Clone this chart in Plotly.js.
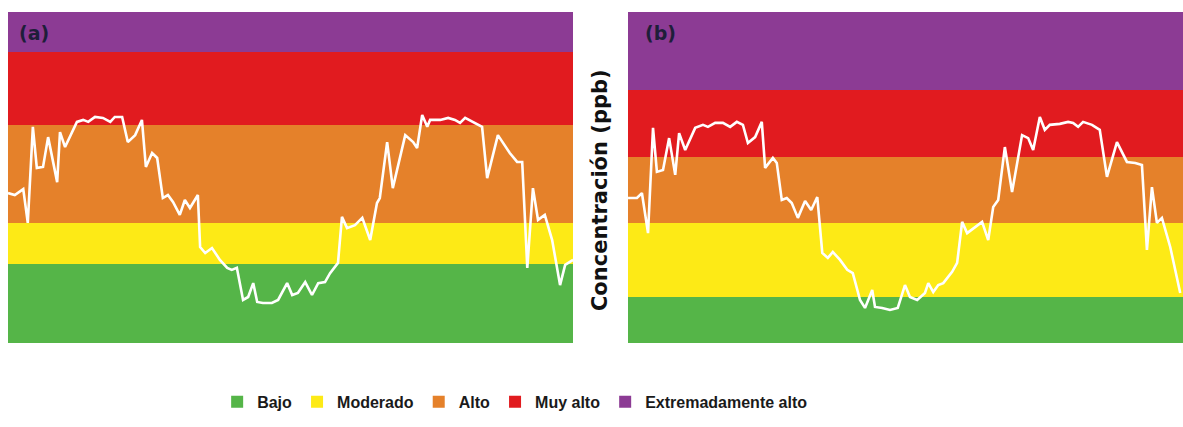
<!DOCTYPE html>
<html><head><meta charset="utf-8">
<script src="https://cdn.plot.ly/plotly-3.0.1.min.js"></script>
<style>html,body{margin:0;padding:0;background:#fff}#chart{width:1183px;height:427px}</style>
</head><body><div id="chart"></div>
<script>
// Band categories (bottom to top)
const bandNames = ["Bajo", "Moderado", "Alto", "Muy alto", "Extremadamente alto"];
const bandColors = ["#55b548", "#fdea16", "#e5812a", "#e11b1f", "#8c3b94"];
// Upper limit of each band (concentration units) for each panel
const bandTopsA = [24, 36.3, 66, 88, 100];
const bandTopsB = [14, 36.3, 56.2, 76.4, 100];

// Panel (a) series
const timeA = [0,1.2,2.7,3.5,4.4,5.1,6.2,7.1,8.7,9.2,10.1,12.2,13.3,14.2,15.4,16.8,18.1,18.9,20.2,21.2,22.5,23.7,24.4,25.5,26.4,27.4,28.3,29.2,30.4,31.3,32.2,33.6,34.0,34.9,36.1,37.5,38.8,39.6,40.5,41.6,42.5,43.4,44.1,45.1,46.7,47.8,49.4,50.3,51.3,52.6,53.8,54.9,56.1,57.0,58.4,59.1,60.0,61.4,62.7,64.1,65.3,65.8,67.1,68.1,70.3,71.7,72.4,73.3,74.2,74.7,76.5,77.9,79.1,80.0,80.9,82.3,83.9,84.8,86.7,88.8,90.1,91.0,91.9,92.9,93.8,95.0,96.3,97.7,98.6,100];
const concA = [45.3,44.7,46.5,36.3,65.3,52.9,53.2,62.2,48.6,63.7,59.2,66.8,67.4,66.8,68.3,68.0,66.8,68.3,68.3,60.7,62.8,67.4,53.2,57.4,55.9,43.8,44.7,42.6,38.7,43.2,40.8,44.7,29.0,27.2,28.7,25.1,22.7,22.1,22.7,13.0,13.9,18.1,12.4,12.1,12.1,13.0,18.1,14.5,15.1,18.4,14.5,18.1,18.4,21.1,24.2,38.1,34.7,35.6,37.8,31.1,42.3,43.8,60.7,46.8,62.8,60.7,58.9,68.9,65.3,67.4,67.4,68.0,67.4,66.5,68.0,66.8,65.3,49.8,62.8,57.4,54.7,54.7,22.7,46.8,37.2,38.7,31.1,17.5,23.6,25.1];

// Panel (b) series
const timeB = [0,1.6,2.5,3.6,4.5,5.2,6.3,7.4,8.5,9.2,10.3,12.1,13.5,14.4,15.7,17.1,18.4,19.6,20.7,21.6,22.9,24.1,24.7,26.1,26.8,27.7,28.6,29.5,30.6,31.9,33.0,34.1,35.0,36.0,36.9,38.2,39.5,40.5,41.8,42.7,44.0,44.5,45.8,47.2,48.6,49.9,50.8,52.1,53.5,54.1,55.0,55.9,56.8,58.4,59.3,60.2,61.1,62.2,63.8,64.9,65.8,66.7,67.9,69.2,71.0,72.1,73.0,74.2,75.1,76.0,77.8,79.3,80.2,81.1,82.0,83.6,85.0,86.3,88.1,89.9,91.4,92.6,93.5,94.4,95.3,96.2,97.7,99.5];
const concB = [43.8,43.8,45.3,33.2,65.0,51.7,52.3,61.9,50.8,63.4,58.3,65.0,65.9,65.3,66.5,66.5,65.3,66.8,65.9,60.4,62.2,66.8,52.9,55.9,54.4,43.2,43.8,42.3,37.8,42.9,40.2,44.1,27.2,25.7,27.5,25.1,22.1,21.1,13.0,10.6,16.0,10.9,10.6,10.0,10.6,17.5,13.9,13.0,15.1,18.1,15.4,17.5,18.1,21.5,24.2,36.6,33.2,34.7,36.6,31.1,41.1,43.2,59.2,45.6,62.8,61.9,58.3,68.3,64.4,65.9,66.2,66.8,66.5,65.3,66.8,65.9,64.4,50.2,60.7,54.7,54.4,53.8,28.1,47.1,36.3,37.8,29.0,15.1];

const xMin = 0, xMax = 100;

function bandTraces(tops, xa, ya, showLegend) {
  return bandNames.map((name, i) => {
    const base = i === 0 ? 0 : tops[i - 1];
    return {
      type: 'bar', name: name,
      x: [(xMin + xMax) / 2], y: [tops[i] - base], base: [base],
      width: [xMax - xMin],
      marker: {color: bandColors[i], line: {width: 0}},
      xaxis: xa, yaxis: ya,
      legendgroup: name, showlegend: showLegend,
      hoverinfo: 'skip'
    };
  });
}

const lineStyle = {color: '#ffffff', width: 2.6};
const traces = [
  ...bandTraces(bandTopsA, 'x', 'y', true),
  ...bandTraces(bandTopsB, 'x2', 'y2', false),
  {type: 'scatter', mode: 'lines', x: timeA, y: concA, line: lineStyle, xaxis: 'x', yaxis: 'y', showlegend: false, hoverinfo: 'skip'},
  {type: 'scatter', mode: 'lines', x: timeB, y: concB, line: lineStyle, xaxis: 'x2', yaxis: 'y2', showlegend: false, hoverinfo: 'skip'}
];

const hidden = {showgrid: false, zeroline: false, showticklabels: false, ticks: '', showline: false, fixedrange: true};
const font = 'Liberation Sans, Arial, sans-serif';
const wideFont = 'DejaVu Sans, Verdana, sans-serif';

const layout = {
  width: 1183, height: 427,
  margin: {l: 8, r: 0, t: 12, b: 84, pad: 0},
  paper_bgcolor: '#ffffff', plot_bgcolor: '#ffffff',
  barmode: 'overlay', bargap: 0,
  xaxis: Object.assign({domain: [0, 0.4809], range: [xMin, xMax], anchor: 'y'}, hidden),
  yaxis: Object.assign({range: [0, 100], anchor: 'x'}, hidden),
  xaxis2: Object.assign({domain: [0.5277, 1], range: [xMin, xMax], anchor: 'y2'}, hidden),
  yaxis2: Object.assign({range: [0, 100], anchor: 'x2'}, hidden),
  showlegend: true,
  legend: {
    orientation: 'h', x: 0.178, xanchor: 'left', y: -0.178, yanchor: 'middle',
    font: {family: font, size: 16, color: '#1a1a1a', weight: 'bold'},
    traceorder: 'normal', itemclick: false, itemdoubleclick: false,
    bgcolor: 'rgba(0,0,0,0)'
  },
  annotations: [
    {text: '<b>(a)</b>', xref: 'paper', yref: 'paper', x: 0.0077, y: 0.937, xanchor: 'left', yanchor: 'middle', showarrow: false,
     font: {family: wideFont, size: 19, color: '#1e1e3a'}},
    {text: '<b>(b)</b>', xref: 'paper', yref: 'paper', x: 0.5404, y: 0.937, xanchor: 'left', yanchor: 'middle', showarrow: false,
     font: {family: wideFont, size: 19, color: '#1e1e3a'}},
    {text: '<b>Concentración (ppb)</b>', xref: 'paper', yref: 'paper', x: 0.5038, y: 0.462, xanchor: 'center', yanchor: 'middle',
     textangle: -90, showarrow: false, font: {family: wideFont, size: 21, color: '#111111'}}
  ]
};

Plotly.newPlot('chart', traces, layout, {displayModeBar: false, staticPlot: true});
</script>
</body></html>
